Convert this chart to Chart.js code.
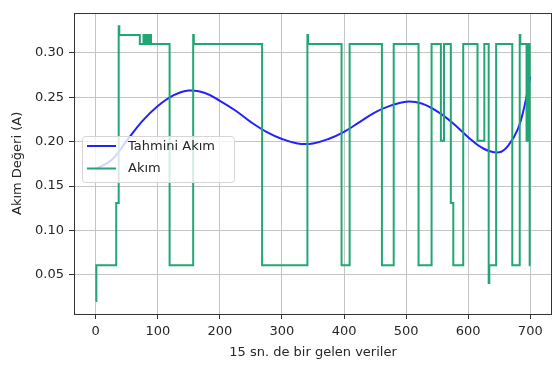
<!DOCTYPE html>
<html><head><meta charset="utf-8">
<script src="https://cdn.jsdelivr.net/npm/chart.js@4.4.0/dist/chart.umd.min.js"></script>
<style>html,body{margin:0;padding:0;background:#fff;overflow:hidden}</style>
</head><body>
<canvas id="c" width="555" height="369" style="display:block;width:555px;height:369px"></canvas>
<script>
// ---- data ----
const xTicks = [0, 100, 200, 300, 400, 500, 600, 700];
const yTicks = [0.05, 0.10, 0.15, 0.20, 0.25, 0.30];

const tahminiX = [0, 25, 50, 75, 100, 125, 150, 175, 200, 225, 250, 275, 300, 325, 350, 375, 400, 425, 450, 475, 500, 525, 550, 575, 600, 625, 650, 665, 680, 690, 700];
const tahminiY = [0.169, 0.179, 0.201, 0.223, 0.240, 0.252, 0.2575, 0.255, 0.246, 0.235, 0.222, 0.211, 0.203, 0.198, 0.198, 0.203, 0.211, 0.222, 0.233, 0.2405, 0.245, 0.243, 0.234, 0.221, 0.205, 0.192, 0.188, 0.196, 0.214, 0.238, 0.273];

// step series: value starts at the given index
const akimX = [0, 1, 33, 37, 38, 71, 77, 79, 81, 83, 84, 86, 87, 89, 119, 157, 158, 268, 341, 342, 396, 409, 461, 480, 520, 541, 556, 561, 572, 576, 592, 615, 626, 633, 634, 645, 671, 683, 684, 694, 695, 697, 698, 699, 700];
const akimY = [0.0206, 0.061, 0.131, 0.330, 0.320, 0.310, 0.320, 0.310, 0.320, 0.310, 0.320, 0.310, 0.320, 0.310, 0.061, 0.320, 0.310, 0.061, 0.320, 0.310, 0.061, 0.310, 0.061, 0.310, 0.061, 0.310, 0.201, 0.310, 0.131, 0.061, 0.310, 0.201, 0.310, 0.041, 0.061, 0.310, 0.061, 0.320, 0.310, 0.201, 0.310, 0.201, 0.310, 0.061, 0.061];

const seriesNames = ['Tahmini Akım', 'Akım'];
const xTitle = '15 sn. de bir gelen veriler';
const yTitle = 'Akım Değeri (A)';

const BLUE = '#2222ff';
const GREEN = '#22a673';
const TXT = '#262626';

Chart.defaults.font.family = '"DejaVu Sans", sans-serif';
Chart.defaults.font.size = 13;

const overlay = {
  id: 'overlay',
  afterDraw(chart) {
    const {ctx, chartArea: a} = chart;
    ctx.save();
    // frame (spines)
    ctx.strokeStyle = '#333';
    ctx.lineWidth = 1;
    ctx.strokeRect(Math.round(a.left) + 0.5, Math.round(a.top) + 0.5,
                   Math.round(a.right) - Math.round(a.left) - 1, Math.round(a.bottom) - Math.round(a.top));
    // legend
    const lx = 82.5, ly = 136.5, lw = 152, lh = 46, r = 3;
    ctx.beginPath();
    ctx.moveTo(lx + r, ly);
    ctx.lineTo(lx + lw - r, ly); ctx.quadraticCurveTo(lx + lw, ly, lx + lw, ly + r);
    ctx.lineTo(lx + lw, ly + lh - r); ctx.quadraticCurveTo(lx + lw, ly + lh, lx + lw - r, ly + lh);
    ctx.lineTo(lx + r, ly + lh); ctx.quadraticCurveTo(lx, ly + lh, lx, ly + lh - r);
    ctx.lineTo(lx, ly + r); ctx.quadraticCurveTo(lx, ly, lx + r, ly);
    ctx.closePath();
    ctx.fillStyle = 'rgba(255,255,255,0.8)';
    ctx.fill();
    ctx.strokeStyle = '#d6d6d6';
    ctx.stroke();
    const rows = [[seriesNames[0], BLUE, 146], [seriesNames[1], GREEN, 168.5]];
    ctx.font = '13px "DejaVu Sans"';
    ctx.textBaseline = 'middle';
    ctx.textAlign = 'left';
    for (const [t, c, y] of rows) {
      ctx.strokeStyle = c; ctx.lineWidth = 2;
      ctx.beginPath(); ctx.moveTo(87, y); ctx.lineTo(116, y); ctx.stroke();
      ctx.fillStyle = TXT;
      ctx.fillText(t, 128, y + 0.5);
    }
    ctx.restore();
  }
};

new Chart(document.getElementById('c'), {
  type: 'line',
  data: {
    datasets: [
      {
        label: seriesNames[1],
        data: akimX.map((x, i) => ({x, y: akimY[i]})),
        borderColor: GREEN, borderWidth: 2, pointRadius: 0, stepped: true, fill: false, order: 0
      },
      {
        label: seriesNames[0],
        data: tahminiX.map((x, i) => ({x, y: tahminiY[i]})),
        borderColor: BLUE, borderWidth: 2, pointRadius: 0, tension: 0.4, fill: false, order: 1
      }
    ]
  },
  options: {
    responsive: false, animation: false, devicePixelRatio: 1,
    layout: {padding: {top: 3, right: 3, left: 0, bottom: 0}},
    plugins: {legend: {display: false}, tooltip: {enabled: false}},
    scales: {
      x: {
        type: 'linear', min: -35, max: 735,
        afterBuildTicks: s => { s.ticks = xTicks.map(v => ({value: v})); },
        afterFit: s => { s.height = 55; },
        grid: {color: '#c4c4c4', tickColor: '#333', tickLength: 5, lineWidth: 1},
        border: {display: false},
        ticks: {autoSkip: false, maxRotation: 0, padding: 5, color: TXT, callback: v => String(v)},
        title: {display: true, text: xTitle, color: TXT, padding: {top: 0, bottom: 9}}
      },
      y: {
        type: 'linear', min: 0.006, max: 0.345,
        afterBuildTicks: s => { s.ticks = yTicks.map(v => ({value: v})); },
        afterFit: s => { s.width = 74; },
        grid: {color: '#c4c4c4', tickColor: '#333', tickLength: 5, lineWidth: 1},
        border: {display: false},
        ticks: {autoSkip: false, padding: 5, color: TXT, callback: v => Number(v).toFixed(2)},
        title: {display: true, text: yTitle, color: TXT, padding: {top: 10, bottom: 0}}
      }
    }
  },
  plugins: [overlay]
});
</script>
</body></html>
